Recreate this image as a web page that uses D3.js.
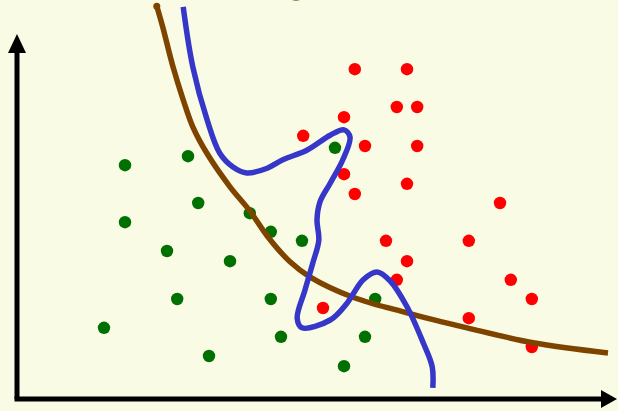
<!DOCTYPE html>
<html>
<head>
<meta charset="utf-8">
<script src="https://cdn.jsdelivr.net/npm/d3@7"></script>
<style>
  html, body { margin: 0; padding: 0; background: #f9fbe4; }
  svg { display: block; }
</style>
</head>
<body>
<svg id="chart" width="618" height="411"></svg>
<script>
// Class A samples (red)
const redX = [5.63, 6.50, 6.33, 6.67, 4.77, 5.45, 5.80, 6.67, 5.45, 6.50, 5.63, 8.05, 6.15, 7.53, 6.50, 6.33, 8.23, 8.58, 5.10, 7.53, 8.58];
const redY = [5.48, 5.48, 4.85, 4.85, 4.37, 4.68, 4.20, 4.20, 3.73, 3.57, 3.40, 3.25, 2.62, 2.62, 2.28, 1.97, 1.97, 1.65, 1.50, 1.33, 0.85];

// Class B samples (green)
const greenX = [1.80, 2.85, 5.30, 3.02, 1.80, 3.88, 4.23, 4.75, 2.50, 3.55, 2.67, 4.23, 5.97, 1.45, 4.40, 5.80, 3.20, 5.45];
const greenY = [3.88, 4.03, 4.17, 3.25, 2.93, 3.08, 2.77, 2.62, 2.45, 2.28, 1.65, 1.65, 1.65, 1.17, 1.02, 1.02, 0.70, 0.53];

// Smooth decision boundary (brown)
const smoothX = [2.33, 2.43, 2.60, 2.77, 2.93, 3.17, 3.55, 3.88, 4.17, 4.55, 4.88, 5.60, 6.50, 7.50, 8.60, 9.85];
const smoothY = [6.53, 6.18, 5.52, 4.97, 4.52, 4.07, 3.52, 3.12, 2.70, 2.27, 2.02, 1.68, 1.42, 1.17, 0.92, 0.75];

// Overfitted decision boundary (blue)
const wiggleX = [2.77, 2.93, 3.17, 3.38, 3.60, 3.83, 4.17, 4.43, 4.83, 5.22, 5.45, 5.55, 5.43, 5.22, 5.05, 5.00, 5.03, 4.93, 4.80, 4.67, 4.75, 5.22, 5.50, 5.77, 6.00, 6.22, 6.50, 6.77, 6.92, 6.93];
const wiggleY = [6.52, 5.52, 4.63, 4.08, 3.85, 3.75, 3.83, 3.97, 4.13, 4.38, 4.47, 4.35, 3.97, 3.58, 3.27, 2.97, 2.63, 2.25, 1.80, 1.33, 1.17, 1.30, 1.58, 1.97, 2.10, 1.95, 1.52, 0.92, 0.52, 0.17];

const svg = d3.select("#chart");
const W = 618, H = 411;

svg.append("rect").attr("width", W).attr("height", H).attr("fill", "#f9fbe4");

const x = d3.scaleLinear().domain([0, 10]).range([17, 617]);
const y = d3.scaleLinear().domain([0, 6]).range([398, 38]);

// small olive blob peeking in at the top edge
svg.append("ellipse")
  .attr("cx", 296).attr("cy", -10).attr("rx", 9).attr("ry", 11)
  .attr("fill", "#7e9848");

// axes as arrows
const axisColor = "#000";
const x0 = x(0), y0 = y(0);
svg.append("line")
  .attr("x1", x0).attr("y1", y0 + 1).attr("x2", x0).attr("y2", y(6) + 14)
  .attr("stroke", axisColor).attr("stroke-width", 5);
svg.append("path")
  .attr("d", `M${x0},${y(6) - 4} L${x0 - 9},${y(6) + 15} L${x0 + 9},${y(6) + 15} Z`)
  .attr("fill", axisColor);
svg.append("line")
  .attr("x1", x0 - 2.5).attr("y1", y0 + 1).attr("x2", x(10) - 14).attr("y2", y0 + 1)
  .attr("stroke", axisColor).attr("stroke-width", 5);
svg.append("path")
  .attr("d", `M${x(10)},${y0 + 1} L${x(10) - 16},${y0 - 8} L${x(10) - 16},${y0 + 10} Z`)
  .attr("fill", axisColor);

// sample points
const dotR = 6.2;
svg.append("g").selectAll("circle")
  .data(greenX.map((v, i) => [v, greenY[i]]))
  .join("circle")
  .attr("cx", d => x(d[0])).attr("cy", d => y(d[1])).attr("r", dotR)
  .attr("fill", "#007100");
svg.append("g").selectAll("circle")
  .data(redX.map((v, i) => [v, redY[i]]))
  .join("circle")
  .attr("cx", d => x(d[0])).attr("cy", d => y(d[1])).attr("r", dotR)
  .attr("fill", "#ff0000");

const line = d3.line()
  .x(d => x(d[0])).y(d => y(d[1]))
  .curve(d3.curveCatmullRom.alpha(0.5));

// brown boundary
svg.append("path")
  .datum(smoothX.map((v, i) => [v, smoothY[i]]))
  .attr("d", line)
  .attr("fill", "none")
  .attr("stroke", "#7f4300")
  .attr("stroke-width", 5.5)
  .attr("stroke-linejoin", "round");
// rounded start cap
svg.append("circle")
  .attr("cx", x(smoothX[0])).attr("cy", y(smoothY[0])).attr("r", 3.5)
  .attr("fill", "#7f4300");

// blue boundary
svg.append("path")
  .datum(wiggleX.map((v, i) => [v, wiggleY[i]]))
  .attr("d", line)
  .attr("fill", "none")
  .attr("stroke", "#3636c8")
  .attr("stroke-width", 5.5)
  .attr("stroke-linejoin", "round");
</script>
</body>
</html>
